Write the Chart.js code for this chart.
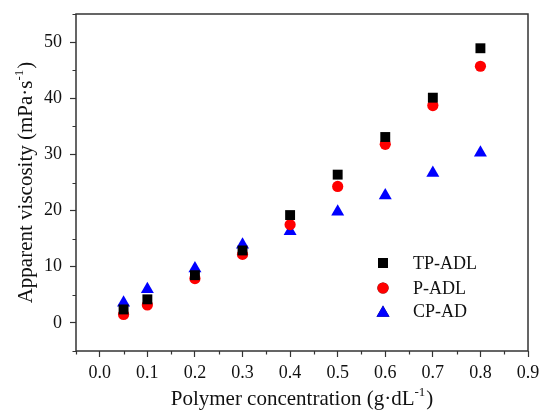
<!DOCTYPE html>
<html>
<head>
<meta charset="utf-8">
<script src="https://cdn.jsdelivr.net/npm/chart.js@4/dist/chart.umd.min.js"></script>
<style>
  html, body { margin: 0; padding: 0; background: #fff; }
  #chart { display: block; }
</style>
</head>
<body>
<canvas id="chart" width="542" height="411"></canvas>
<script>
// ===============================
// DATA
// ===============================
const concentration = [0.05, 0.1, 0.2, 0.3, 0.4, 0.5, 0.6, 0.7, 0.8];
const tpAdl = [2.4, 4.2, 8.5, 12.9, 19.2, 26.4, 33.1, 40.1, 48.9];
const pAdl = [1.5, 3.2, 7.9, 12.2, 17.5, 24.3, 31.8, 38.7, 45.7];
const cpAd = [3.6, 6.0, 9.7, 13.9, 16.3, 19.8, 22.7, 26.7, 30.3];

const seriesNames = ["TP-ADL", "P-ADL", "CP-AD"];
const xTicks = [0.0, 0.1, 0.2, 0.3, 0.4, 0.5, 0.6, 0.7, 0.8, 0.9];
const yTicks = [0, 10, 20, 30, 40, 50];
const xTitle = ["Polymer concentration (g\u00b7dL", "-1", ")"];
const yTitle = ["Apparent viscosity (mPa\u00b7s", "-1", ")"];

const FONT = "'Liberation Serif', 'Times New Roman', serif";
const AXIS = "#333333";

function toPoints(ys) {
  return concentration.map((x, i) => ({ x: x, y: ys[i] }));
}

// ===============================
// HELPERS
// ===============================
function drawTitle(ctx, parts, size) {
  // main text, raised superscript, closing bracket; centred on origin
  const sup = Math.round(size * 0.62);
  ctx.font = size + "px " + FONT;
  const w1 = ctx.measureText(parts[0]).width;
  const w3 = ctx.measureText(parts[2]).width;
  ctx.font = sup + "px " + FONT;
  const w2 = ctx.measureText(parts[1]).width;
  let x = -(w1 + w2 + w3 + 1) / 2;
  ctx.textAlign = "left";
  ctx.textBaseline = "alphabetic";
  ctx.font = size + "px " + FONT;
  ctx.fillText(parts[0], x, 0);
  x += w1;
  ctx.font = sup + "px " + FONT;
  ctx.fillText(parts[1], x, -size * 0.42);
  x += w2 + 1;
  ctx.font = size + "px " + FONT;
  ctx.fillText(parts[2], x, 0);
}

// ===============================
// FRAME, MINOR TICKS, TITLES, LEGEND
// ===============================
const decorations = {
  id: "decorations",
  afterDraw(chart) {
    const ctx = chart.ctx;
    const area = chart.chartArea;
    const xs = chart.scales.x;
    const ys = chart.scales.y;

    ctx.save();
    ctx.strokeStyle = AXIS;
    ctx.lineWidth = 1.5;
    ctx.strokeRect(area.left, area.top, area.right - area.left, area.bottom - area.top);

    // minor ticks, halfway between majors
    ctx.lineWidth = 1.2;
    ctx.beginPath();
    for (let i = 0; i <= xTicks.length; i++) {
      const v = (i === 0 ? xTicks[0] : xTicks[i - 1]) + (i === 0 ? -0.05 : 0.05);
      const px = Math.round(xs.getPixelForValue(v)) + 0.5;
      if (px < area.left - 1 || px > area.right + 1) continue;
      ctx.moveTo(px, area.bottom);
      ctx.lineTo(px, area.bottom + 3.5);
    }
    for (let i = 0; i <= yTicks.length; i++) {
      const v = (i === 0 ? yTicks[0] - 5 : yTicks[i - 1] + 5);
      const py = Math.round(ys.getPixelForValue(v)) + 0.5;
      if (py < area.top - 1 || py > area.bottom + 1) continue;
      ctx.moveTo(area.left, py);
      ctx.lineTo(area.left - 3.5, py);
    }
    ctx.stroke();

    // axis titles
    ctx.fillStyle = "#111";
    ctx.save();
    ctx.translate((area.left + area.right) / 2, 405);
    drawTitle(ctx, xTitle, 21);
    ctx.restore();

    ctx.save();
    ctx.translate(32, (area.top + area.bottom) / 2);
    ctx.rotate(-Math.PI / 2);
    drawTitle(ctx, yTitle, 21);
    ctx.restore();

    // legend inside plot
    const lx = 383, tx = 413;
    const rows = [263, 288, 311];
    chart.data.datasets.forEach((ds, i) => {
      Chart.helpers.drawPoint(ctx, {
        pointStyle: ds.pointStyle,
        radius: ds.pointRadius,
        borderWidth: 0
      }, lx, rows[i] + (ds.pointStyle === "triangle" ? 2 : 0));
      ctx.fillStyle = ds.backgroundColor;
      ctx.fill();
      ctx.fillStyle = "#111";
      ctx.font = "18px " + FONT;
      ctx.textAlign = "left";
      ctx.textBaseline = "middle";
      ctx.fillText(ds.label, tx, rows[i] + 1);
    });
    ctx.restore();
  }
};

// ===============================
// CHART
// ===============================
new Chart(document.getElementById("chart"), {
  type: "scatter",
  data: {
    datasets: [
      {
        label: seriesNames[0],
        data: toPoints(tpAdl),
        pointStyle: "rect",
        pointRadius: 7,
        backgroundColor: "#000000",
        borderColor: "#000000",
        borderWidth: 0
      },
      {
        label: seriesNames[1],
        data: toPoints(pAdl),
        pointStyle: "circle",
        pointRadius: 5.6,
        backgroundColor: "#ff0000",
        borderColor: "#ff0000",
        borderWidth: 0
      },
      {
        label: seriesNames[2],
        data: toPoints(cpAd),
        pointStyle: "triangle",
        pointRadius: 7.5,
        backgroundColor: "#0000ff",
        borderColor: "#0000ff",
        borderWidth: 0
      }
    ]
  },
  options: {
    responsive: false,
    animation: false,
    devicePixelRatio: 1,
    layout: { padding: { top: 14, right: 14, left: 0, bottom: 0 } },
    plugins: {
      legend: { display: false },
      tooltip: { enabled: false }
    },
    scales: {
      x: {
        type: "linear",
        min: -0.05,
        max: 0.9,
        afterBuildTicks: s => { s.ticks = xTicks.map(v => ({ value: v })); },
        afterFit: s => { s.height = 60; s.paddingLeft = 0; s.paddingRight = 0; },
        grid: {
          drawOnChartArea: false,
          drawTicks: true,
          tickLength: 6,
          tickColor: AXIS,
          tickWidth: 1.2
        },
        border: { display: false },
        ticks: {
          padding: 5,
          color: "#111",
          font: { family: FONT, size: 18 },
          maxRotation: 0,
          callback: v => v.toFixed(1)
        }
      },
      y: {
        type: "linear",
        min: -5,
        max: 55,
        afterBuildTicks: s => { s.ticks = yTicks.map(v => ({ value: v })); },
        afterFit: s => { s.width = 76; s.paddingTop = 0; s.paddingBottom = 0; },
        grid: {
          drawOnChartArea: false,
          drawTicks: true,
          tickLength: 6,
          tickColor: AXIS,
          tickWidth: 1.2
        },
        border: { display: false },
        ticks: {
          padding: 8,
          color: "#111",
          font: { family: FONT, size: 18 },
          callback: v => String(v)
        }
      }
    }
  },
  plugins: [decorations]
});
</script>
</body>
</html>
